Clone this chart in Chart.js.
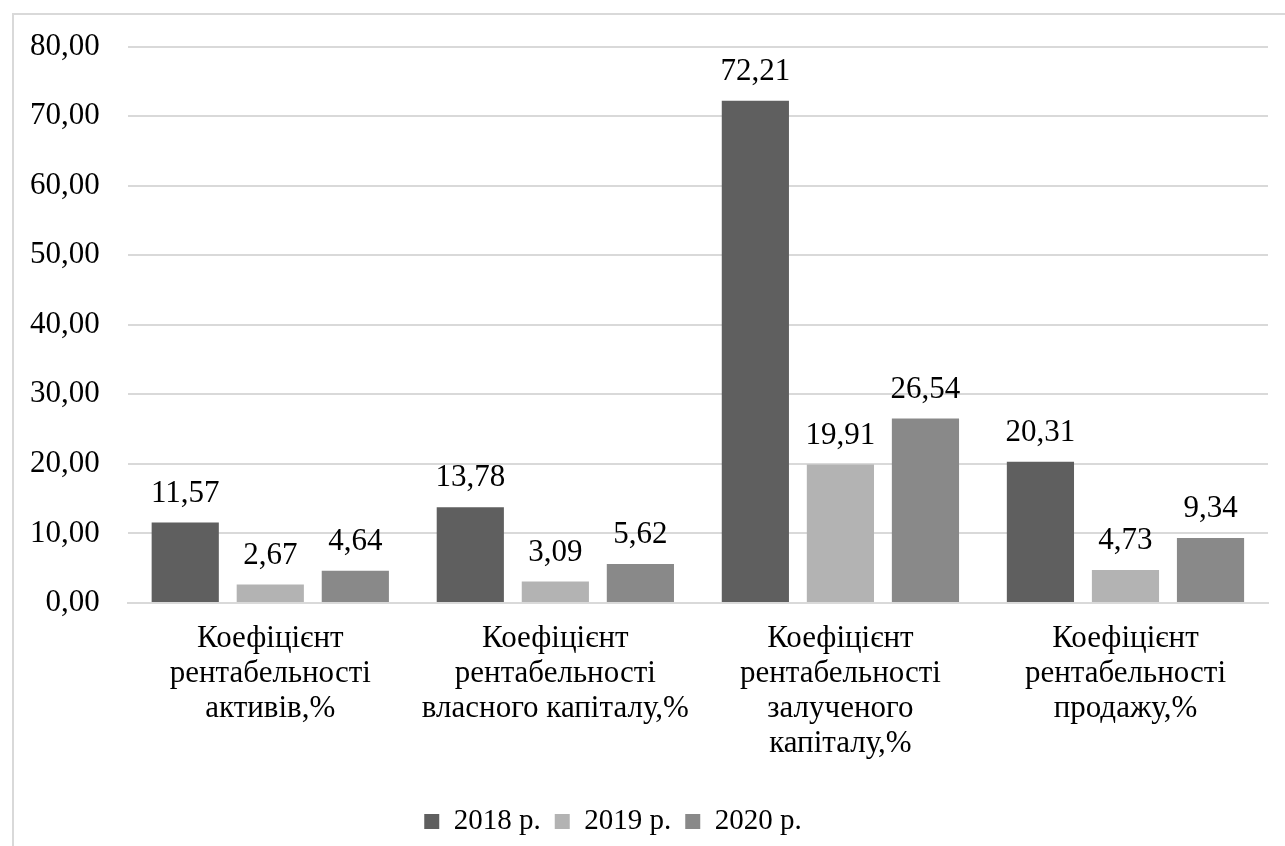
<!DOCTYPE html>
<html>
<head>
<meta charset="utf-8">
<script src="https://cdn.jsdelivr.net/npm/chart.js@4/dist/chart.umd.min.js"></script>
<style>
  html, body { margin: 0; padding: 0; background: #fff; overflow: hidden; }
  #frame { position: absolute; left: 12px; top: 13px; width: 1400px; height: 900px; border: 2px solid #d9d9d9; box-sizing: border-box; }
  #wrap { position: absolute; left: 0; top: 0; width: 1285px; height: 846px; }
</style>
</head>
<body>
<div id="frame"></div>
<div id="wrap"><canvas id="chart"></canvas></div>
<script>
// categories (multi-line, as in the source chart)
const categories = [
  ["Коефіцієнт", "рентабельності", "активів,%"],
  ["Коефіцієнт", "рентабельності", "власного капіталу,%"],
  ["Коефіцієнт", "рентабельності", "залученого", "капіталу,%"],
  ["Коефіцієнт", "рентабельності", "продажу,%"]
]
const seriesNames = ["2018 р.", "2019 р.", "2020 р."]
const values2018 = [11.57, 13.78, 72.21, 20.31]
const values2019 = [2.67, 3.09, 19.91, 4.73]
const values2020 = [4.64, 5.62, 26.54, 9.34]
const seriesColors = ["#5f5f5f", "#b3b3b3", "#898989"]
const yMax = 80, yStep = 10

const FONT = "'Liberation Serif', 'Times New Roman', serif"
const fmt = (v) => v.toFixed(2).replace(".", ",")

// value labels above each bar
const barLabels = {
  id: "barLabels",
  afterDatasetsDraw(chart) {
    const ctx = chart.ctx
    ctx.save()
    ctx.font = "31px " + FONT
    ctx.fillStyle = "#000"
    ctx.textAlign = "center"
    ctx.textBaseline = "middle"
    chart.data.datasets.forEach((ds, i) => {
      chart.getDatasetMeta(i).data.forEach((bar, j) => {
        ctx.fillText(fmt(ds.data[j]), bar.x, bar.y - 29)
      })
    })
    ctx.restore()
  }
}

// Excel puts the legend a little left of the canvas centre
const legendShift = {
  id: "legendShift",
  afterLayout(chart) {
    const lg = chart.legend
    if (!lg) return
    lg.left -= 22; lg.right -= 22
  }
}

const datasets = [values2018, values2019, values2020].map((d, i) => ({
  label: seriesNames[i],
  data: d,
  backgroundColor: seriesColors[i],
  borderWidth: 0,
  categoryPercentage: 0.895,
  barPercentage: 0.79
}))

new Chart(document.getElementById("chart"), {
  type: "bar",
  data: { labels: categories, datasets },
  plugins: [barLabels, legendShift],
  options: {
    responsive: true,
    maintainAspectRatio: false,
    animation: false,
    layout: { padding: { left: 2, right: 17, top: 26, bottom: 0 } },
    plugins: {
      tooltip: { enabled: false },
      legend: {
        position: "bottom",
        labels: { boxWidth: 15, boxHeight: 15, padding: 14, color: "#000", font: { family: FONT, size: 29 } }
      }
    },
    scales: {
      x: {
        grid: { display: false },
        border: { color: "#d9d9d9", width: 2 },
        ticks: { color: "#000", padding: 10, maxRotation: 0, autoSkip: false, font: { family: FONT, size: 31, lineHeight: 35 / 31 } },
        afterFit: (scale) => { scale.height += 22 }
      },
      y: {
        min: 0, max: yMax,
        border: { display: false },
        grid: { color: "#d9d9d9", lineWidth: 2, drawTicks: false },
        ticks: { stepSize: yStep, padding: 28, color: "#000", font: { family: FONT, size: 31 }, callback: (v) => fmt(v) }
      }
    }
  }
})
</script>
</body>
</html>
